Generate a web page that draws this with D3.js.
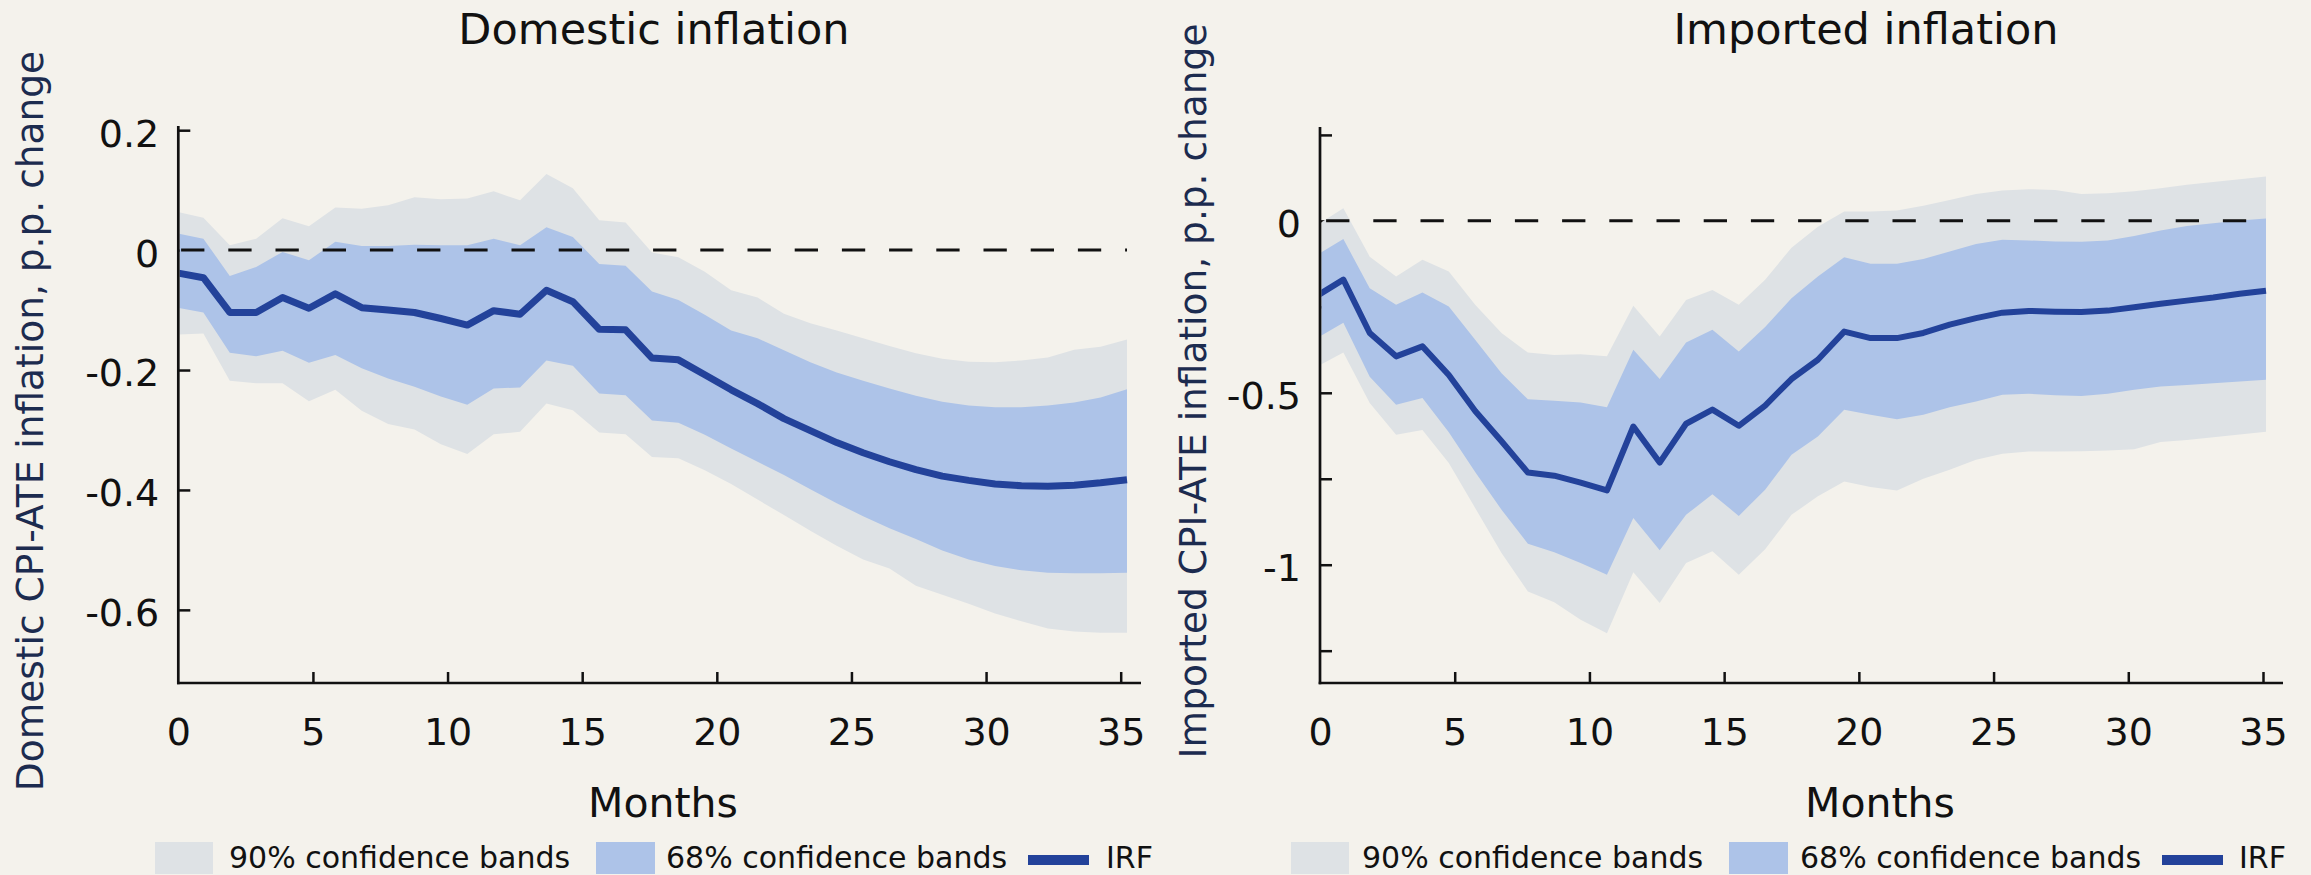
<!DOCTYPE html>
<html>
<head>
<meta charset="utf-8">
<script src="https://cdn.jsdelivr.net/npm/d3@7"></script>
<style>
  html, body { margin: 0; padding: 0; background: #f4f2ec; }
  svg { display: block; }
  text { font-family: "DejaVu Sans", sans-serif; }
</style>
</head>
<body>
<div id="chart"></div>
<script>
// months after the shock, one point per month
const months = [0, 1, 2, 3, 4, 5, 6, 7, 8, 9, 10, 11, 12, 13, 14, 15, 16, 17, 18,
  19, 20, 21, 22, 23, 24, 25, 26, 27, 28, 29, 30, 31, 32, 33, 34, 35, 36];
const xTicks = [0, 5, 10, 15, 20, 25, 30, 35];

// domestic inflation
const domIrf = [-0.038, -0.046, -0.104, -0.104, -0.079, -0.097, -0.073, -0.096, -0.100, -0.104,
  -0.114, -0.125, -0.101, -0.107, -0.067, -0.086, -0.132, -0.133, -0.180, -0.183, -0.208, -0.233,
  -0.256, -0.281, -0.301, -0.321, -0.338, -0.353, -0.366, -0.377, -0.384, -0.390, -0.393, -0.394,
  -0.392, -0.388, -0.383];
const dom68Hi = [0.028, 0.019, -0.043, -0.028, -0.003, -0.017, 0.014, 0.007, 0.007, 0.009,
  0.008, 0.008, 0.019, 0.008, 0.038, 0.022, -0.023, -0.026, -0.069, -0.083, -0.108, -0.134,
  -0.147, -0.167, -0.187, -0.204, -0.218, -0.231, -0.243, -0.253, -0.259, -0.262, -0.262, -0.259,
  -0.254, -0.246, -0.232];
const dom68Lo = [-0.096, -0.104, -0.171, -0.177, -0.168, -0.188, -0.175, -0.197, -0.214, -0.228,
  -0.244, -0.258, -0.231, -0.229, -0.184, -0.193, -0.239, -0.242, -0.284, -0.288, -0.308, -0.331,
  -0.353, -0.375, -0.399, -0.422, -0.444, -0.464, -0.482, -0.501, -0.516, -0.527, -0.534, -0.538,
  -0.539, -0.539, -0.538];
const dom90Hi = [0.064, 0.054, 0.008, 0.019, 0.053, 0.040, 0.071, 0.069, 0.075, 0.088,
  0.085, 0.086, 0.098, 0.083, 0.127, 0.103, 0.050, 0.046, -0.004, -0.012, -0.036, -0.067,
  -0.079, -0.106, -0.122, -0.134, -0.147, -0.160, -0.172, -0.181, -0.186, -0.187, -0.184, -0.179,
  -0.166, -0.161, -0.149];
const dom90Lo = [-0.141, -0.139, -0.218, -0.222, -0.222, -0.252, -0.233, -0.268, -0.290, -0.299,
  -0.324, -0.340, -0.307, -0.303, -0.256, -0.267, -0.304, -0.307, -0.345, -0.347, -0.367, -0.390,
  -0.416, -0.442, -0.468, -0.493, -0.516, -0.531, -0.560, -0.575, -0.590, -0.606, -0.619, -0.631,
  -0.636, -0.638, -0.638];
const domYTicks = [0.2, 0, -0.2, -0.4, -0.6];

// imported inflation
const impIrf = [-0.218, -0.171, -0.326, -0.394, -0.365, -0.448, -0.553, -0.641, -0.732, -0.741,
  -0.761, -0.784, -0.598, -0.703, -0.590, -0.549, -0.596, -0.537, -0.460, -0.404, -0.322, -0.341,
  -0.341, -0.326, -0.302, -0.283, -0.267, -0.262, -0.264, -0.265, -0.261, -0.251, -0.241, -0.232,
  -0.223, -0.212, -0.203];
const imp68Hi = [-0.099, -0.053, -0.196, -0.244, -0.208, -0.249, -0.346, -0.443, -0.519, -0.523,
  -0.528, -0.542, -0.375, -0.460, -0.354, -0.317, -0.380, -0.309, -0.225, -0.162, -0.106, -0.125,
  -0.125, -0.111, -0.089, -0.067, -0.055, -0.057, -0.060, -0.061, -0.057, -0.044, -0.028, -0.015,
  -0.007, 0.001, 0.007];
const imp68Lo = [-0.341, -0.296, -0.453, -0.535, -0.515, -0.615, -0.730, -0.840, -0.939, -0.964,
  -0.995, -1.029, -0.864, -0.958, -0.855, -0.795, -0.858, -0.782, -0.680, -0.627, -0.549, -0.564,
  -0.577, -0.564, -0.542, -0.525, -0.506, -0.503, -0.507, -0.509, -0.503, -0.491, -0.482, -0.477,
  -0.472, -0.467, -0.462];
const imp90Hi = [-0.012, 0.037, -0.104, -0.162, -0.113, -0.147, -0.244, -0.326, -0.383, -0.390,
  -0.388, -0.394, -0.247, -0.336, -0.230, -0.201, -0.244, -0.171, -0.078, -0.017, 0.027, 0.027,
  0.030, 0.044, 0.061, 0.078, 0.088, 0.092, 0.090, 0.078, 0.080, 0.086, 0.095, 0.105,
  0.113, 0.121, 0.129];
const imp90Lo = [-0.424, -0.383, -0.530, -0.622, -0.608, -0.704, -0.835, -0.966, -1.078, -1.109,
  -1.160, -1.199, -1.022, -1.111, -0.995, -0.961, -1.029, -0.955, -0.855, -0.801, -0.758, -0.774,
  -0.784, -0.750, -0.724, -0.695, -0.677, -0.671, -0.671, -0.670, -0.668, -0.664, -0.643, -0.637,
  -0.629, -0.621, -0.613];
const impYTicks = [0.25, 0, -0.25, -0.5, -0.75, -1, -1.25];
const impYLabelled = [0, -0.5, -1];

const legendLabels = ['90% confidence bands', '68% confidence bands', 'IRF'];

const colors = {
  bg: '#f4f2ec',
  band90: '#dee2e5',
  band68: '#adc3e8',
  irf: '#23429a',
  ink: '#111111',
  ylab: '#1c2b4f'
};

const width = 2311, height = 875;
const baseY = 683;

const svg = d3.select('#chart')
  .append('svg')
  .attr('width', width)
  .attr('height', height);

svg.append('rect')
  .attr('width', width)
  .attr('height', height)
  .attr('fill', colors.bg);

const panels = [
  {
    id: 'dom', title: 'Domestic inflation', titleX: 654,
    ylabel: 'Domestic CPI-ATE inflation, p.p. change', ylabelX: 43, ylabelY: 421,
    axisX: 178.3, axisEnd: 1141, top: 126,
    dataRange: [177, 1127], tickRange: [178.3, 1120.7],
    yDomain: [-0.722, 0.207], yTicks: domYTicks, yLabelled: domYTicks,
    irf: domIrf, lo68: dom68Lo, hi68: dom68Hi, lo90: dom90Lo, hi90: dom90Hi,
    irfWidth: 7, dashGap: 4.1, monthsX: 663,
    legend: [155, 229, 596, 666, 1028, 1106]
  },
  {
    id: 'imp', title: 'Imported inflation', titleX: 1866,
    ylabel: 'Imported CPI-ATE inflation, p.p. change', ylabelX: 1206, ylabelY: 391,
    axisX: 1320, axisEnd: 2283, top: 127,
    dataRange: [1317, 2266], tickRange: [1320, 2263],
    yDomain: [-1.344, 0.273], yTicks: impYTicks, yLabelled: impYLabelled,
    irf: impIrf, lo68: imp68Lo, hi68: imp68Hi, lo90: imp90Lo, hi90: imp90Hi,
    irfWidth: 6, dashGap: 9.1, monthsX: 1880,
    legend: [1291, 1362, 1729, 1800, 2162, 2239]
  }
];

panels.forEach(p => {
  const g = svg.append('g');

  const x = d3.scaleLinear().domain([0, 36]).range(p.dataRange);
  const xt = d3.scaleLinear().domain([0, 35]).range(p.tickRange);
  const y = d3.scaleLinear().domain(p.yDomain).range([baseY, p.top]);

  const rows = months.map((m, i) => ({
    m, irf: p.irf[i], lo68: p.lo68[i], hi68: p.hi68[i], lo90: p.lo90[i], hi90: p.hi90[i]
  }));

  // axes (ticks point inwards, bands get drawn over them)
  const yAxis = d3.axisLeft(y)
    .tickValues(p.yTicks)
    .tickSize(-12)
    .tickPadding(19)
    .tickFormat(d => p.yLabelled.includes(d) ? String(d) : '');
  const gy = g.append('g')
    .attr('transform', `translate(${p.axisX},0)`)
    .call(yAxis);

  const xAxis = d3.axisBottom(xt)
    .tickValues(xTicks)
    .tickSize(-11)
    .tickPadding(35)
    .tickFormat(d => String(d));
  const gx = g.append('g')
    .attr('transform', `translate(0,${baseY})`)
    .call(xAxis);

  [gy, gx].forEach(a => {
    a.select('.domain').remove();
    a.selectAll('.tick line').attr('stroke', colors.ink).attr('stroke-width', 2.5);
    a.selectAll('.tick text')
      .attr('fill', colors.ink)
      .style('font-size', '38px')
      .style('font-family', '"DejaVu Sans", sans-serif');
  });
  gy.selectAll('.tick text').attr('dy', '0.42em');
  gx.selectAll('.tick').filter(d => d === 0).select('line').remove();

  // bands and IRF, clipped at the y axis
  const clipId = 'clip-' + p.id;
  svg.append('clipPath').attr('id', clipId)
    .append('rect')
    .attr('x', p.axisX + 1.4)
    .attr('y', 0)
    .attr('width', p.axisEnd - p.axisX)
    .attr('height', baseY);

  const plot = g.append('g').attr('clip-path', `url(#${clipId})`);

  const band = (lo, hi) => d3.area()
    .x(d => x(d.m))
    .y0(d => y(d[lo]))
    .y1(d => y(d[hi]));

  plot.append('path')
    .datum(rows)
    .attr('fill', colors.band90)
    .attr('d', band('lo90', 'hi90'));

  plot.append('path')
    .datum(rows)
    .attr('fill', colors.band68)
    .attr('d', band('lo68', 'hi68'));

  // zero line
  plot.append('line')
    .attr('x1', x(0))
    .attr('x2', x(36))
    .attr('y1', y(0))
    .attr('y2', y(0))
    .attr('stroke', colors.ink)
    .attr('stroke-width', 3)
    .attr('stroke-dasharray', '23.3 23.9')
    .attr('stroke-dashoffset', 47.2 - p.dashGap);

  plot.append('path')
    .datum(rows)
    .attr('fill', 'none')
    .attr('stroke', colors.irf)
    .attr('stroke-width', p.irfWidth)
    .attr('stroke-linejoin', 'round')
    .attr('d', d3.line().x(d => x(d.m)).y(d => y(d.irf)));

  // axis lines on top
  g.append('line')
    .attr('x1', p.axisX).attr('x2', p.axisX)
    .attr('y1', p.top).attr('y2', baseY + 1.3)
    .attr('stroke', colors.ink).attr('stroke-width', 2.7);
  g.append('line')
    .attr('x1', p.axisX - 1.3).attr('x2', p.axisEnd)
    .attr('y1', baseY).attr('y2', baseY)
    .attr('stroke', colors.ink).attr('stroke-width', 2.7);

  // titles
  g.append('text')
    .attr('x', p.titleX)
    .attr('y', 43.5)
    .attr('text-anchor', 'middle')
    .attr('fill', colors.ink)
    .style('font-size', '43px')
    .text(p.title);

  g.append('text')
    .attr('x', p.monthsX)
    .attr('y', 817)
    .attr('text-anchor', 'middle')
    .attr('fill', colors.ink)
    .style('font-size', '41px')
    .text('Months');

  g.append('text')
    .attr('transform', `translate(${p.ylabelX},${p.ylabelY}) rotate(-90)`)
    .attr('text-anchor', 'middle')
    .attr('fill', colors.ylab)
    .style('font-size', '37.5px')
    .text(p.ylabel);

  // legend
  const [s90, t90, s68, t68, l0, tIrf] = p.legend;
  const lg = g.append('g');
  lg.append('rect').attr('x', s90).attr('y', 842).attr('width', 58).attr('height', 32)
    .attr('fill', colors.band90);
  lg.append('rect').attr('x', s68).attr('y', 842).attr('width', 59).attr('height', 32)
    .attr('fill', colors.band68);
  lg.append('line').attr('x1', l0).attr('x2', l0 + 61).attr('y1', 860).attr('y2', 860)
    .attr('stroke', colors.irf).attr('stroke-width', 10);
  [t90, t68, tIrf].forEach((tx, i) => {
    lg.append('text')
      .attr('x', tx)
      .attr('y', 868)
      .attr('fill', colors.ink)
      .style('font-size', '30px')
      .text(legendLabels[i]);
  });
});
</script>
</body>
</html>
